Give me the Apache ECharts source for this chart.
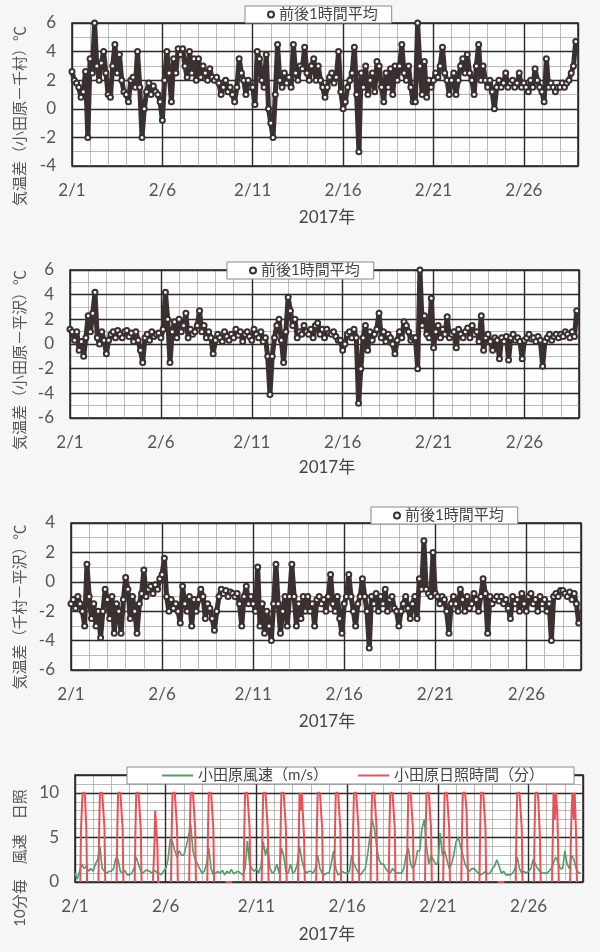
<!DOCTYPE html>
<html>
<head>
<meta charset="utf-8">
<script src="https://cdn.jsdelivr.net/npm/echarts@6/dist/echarts.min.js"></script>
<style>
html,body{margin:0;padding:0;background:#f6f6f9;}
#chart{width:600px;height:952px;}
</style>
</head>
<body>
<div id="chart"></div>
<script>
// ---- data (3-hourly values: 0,3,6,9,12,15,18,21h of each day, 2/1 .. 2/28) ----
const tickLabels = ['2/1', '2/6', '2/11', '2/16', '2/21', '2/26'];
const xTitle = '2017年';
const legendTemp = '前後1時間平均';
const legendWind = '小田原風速（m/s）';
const legendSun = '小田原日照時間（分）';

const diffOdawaraChimura = [
  2.6, 2.0, 1.8, 1.5, 0.8, 1.2, 2.6, -2.0,
  3.5, 2.5, 6.0, 3.0, 2.0, 3.2, 4.0, 2.5,
  1.0, 0.8, 3.0, 4.5, 2.5, 3.8, 2.0, 1.2,
  1.0, 0.5, 2.0, 2.2, 1.5, 4.0, 1.5, -2.0,
  0.0, 1.2, 1.8, 1.0, 1.6, 1.2, 1.0, 0.5,
  -0.8, 2.0, 4.0, 2.5, 0.5, 3.5, 2.5, 4.2,
  3.8, 4.2, 3.0, 2.2, 4.0, 2.5, 3.5, 2.0,
  3.5, 2.2, 3.0, 2.5, 2.0, 2.8, 2.2, 2.0,
  2.2, 1.8, 1.0, 1.5, 2.0, 1.2, 1.5, 1.0,
  0.5, 1.5, 3.5, 2.5, 2.0, 1.0, 2.0, 1.5,
  1.5, 0.3, 4.0, 3.5, 2.0, 1.5, 3.8, 0.0,
  -1.0, -2.0, 1.0, 4.5, 2.0, 1.5, 2.5, 1.8,
  2.2, 1.5, 4.5, 2.5, 2.0, 3.0, 2.8, 4.3,
  2.5, 2.0, 3.0, 3.5, 2.0, 3.0, 2.0, 1.5,
  0.8, 1.5, 2.2, 2.5, 1.8, 2.2, 4.0, 1.2,
  0.0, 0.5, 1.5, 2.0, 2.5, 4.3, 1.0, -3.0,
  2.5, 1.5, 3.0, 1.0, 2.0, 2.5, 1.2, 3.3,
  3.0, 1.5, 0.5, 2.5, 1.5, 2.8, 1.0, 3.0,
  2.0, 3.0, 4.5, 2.5, 2.0, 3.0, 1.5, 0.5,
  0.5, 6.0, 3.0, 1.0, 3.3, 0.8, 2.0, 1.5,
  2.0, 2.5, 2.2, 3.0, 4.3, 2.5, 2.0, 1.0,
  2.0, 2.5, 1.0, 2.0, 3.0, 3.5, 2.5, 3.8,
  2.5, 2.0, 1.0, 3.0, 4.5, 2.0, 3.0, 2.0,
  1.5, 2.0, 1.2, 0.0, 1.5, 2.0, 1.5, 1.8,
  2.5, 1.5, 1.8, 2.0, 1.5, 1.8, 2.5, 1.5,
  1.8, 1.5, 1.2, 2.0, 1.5, 2.8, 2.0, 1.5,
  1.2, 0.5, 3.5, 1.5, 1.8, 1.5, 1.2, 1.5,
  1.5, 1.8, 1.5, 1.8, 2.0, 2.5, 3.0, 4.7
];

const diffOdawaraHirasawa = [
  1.2, 1.0, 0.3, 1.0, -0.5, 0.2, -1.0, 0.5,
  2.3, 1.0, 2.5, 4.2, 0.5, 0.0, 1.0, 0.3,
  -0.8, 0.3, 0.8, 1.0, 0.5, 1.1, 0.8, 0.5,
  1.0, 1.1, 0.6, 0.9, 0.2, 1.0, 0.3, -0.5,
  -1.5, 0.5, 0.8, 0.3, 1.0, 0.6, 0.8, 0.9,
  0.5, 1.2, 4.2, 2.0, -1.5, 1.0, 1.8, 0.5,
  2.0, 1.0, 1.5, 2.5, 0.5, 1.2, 0.8, 1.0,
  1.5, 2.7, 1.0, 1.5, 0.5, 1.0, 0.5, -0.8,
  0.3, 0.8, 0.5, 0.2, 1.0, 0.6, 0.3, 0.8,
  0.5, 1.2, 0.7, 1.0, 0.2, 0.8, 1.0, 0.6,
  0.3, 1.2, 0.8, 0.5, 1.0, 0.2, 0.5, -1.0,
  -4.1, -1.0, 0.5, 1.5, 2.0, 0.3, -1.5, 1.0,
  3.8, 2.7, 1.5, 2.0, 0.5, 1.0, 0.8, 1.5,
  1.0, 0.8, 1.2, 0.5, 1.5, 1.7, 0.8, 1.2,
  0.5, 1.2, 0.9, 0.8, 1.0, 0.6, 0.3, 0.3,
  -0.5, 0.0, 0.8, 1.0, 0.5, 1.2, 0.5, -4.8,
  -2.0, 0.5, 1.5, -0.5, 1.0, 0.3, 0.8, 1.2,
  2.5, 0.5, 1.0, 0.2, 0.8, 0.5, 0.0, -0.8,
  0.3, 1.0, 0.5, 1.8, 1.5, 1.0, 0.3, 0.5,
  0.5, -2.0, 6.0, 1.5, 2.3, 0.8, 0.5, 3.7,
  -0.3, 1.0, 1.5, 0.5, 1.2, 0.8, 2.2, 0.5,
  0.8, 1.0, -0.3, 1.2, 0.8, 0.5, 1.0, 1.3,
  0.5, 1.5, 0.8, 1.0, 0.2, 2.3, -0.5, 0.5,
  0.8, 0.2, -0.5, 0.5, 0.3, -1.2, 0.5, 0.2,
  0.6, -1.3, 0.5, 0.8, 0.3, 0.5, 0.2, -1.2,
  0.3, 0.5, 0.8, 0.4, 0.5, 0.2, 0.6, 0.3,
  -1.8, 0.2, 0.5, 0.8, 0.3, 0.6, 0.8, 0.5,
  0.8, 0.6, 1.0, 0.8, 0.5, 1.0, 0.6, 2.7
];

const diffChimuraHirasawa = [
  -1.5, -1.2, -1.8, -1.0, -1.5, -2.0, -3.0, 1.2,
  -1.0, -2.5, -1.5, -3.0, -2.0, -3.8, -2.0, -0.5,
  -1.2, -2.5, -1.0, -3.5, -1.5, -2.0, -3.5, -1.2,
  0.3, -0.5, -2.5, -1.0, -2.0, -3.5, -1.5, -0.8,
  0.8, -1.0, -0.5, -0.3, -0.8, -0.2, -0.5, 0.2,
  0.5, 1.6, -1.0, -2.0, -1.2, -1.8, -1.5, -2.0,
  -2.8, -0.3, -1.5, -2.0, -1.0, -3.0, -1.2, -2.0,
  -1.2, -0.5, -1.0, -2.5, -1.5, -1.8, -2.5, -3.3,
  -2.0, -1.0, -0.5, -0.8, -0.6, -1.0, -0.7, -0.8,
  -1.0, -0.8, -1.5, -3.0, -1.0, -0.3, -1.5, -1.0,
  -1.5, -2.0, 1.0, -3.0, -1.5, -3.5, -2.0, -3.0,
  -4.0, -1.5, 1.2, -1.5, -3.5, -2.0, -1.0, -3.0,
  -1.0, 1.2, -1.0, -3.0, -1.5, -2.5, -1.0, -2.0,
  -1.0, -2.0, -1.5, -3.0, -1.2, -1.0, -1.5, -1.2,
  -2.0, -1.0, 0.5, -1.5, -2.0, -1.0, -2.5, -3.5,
  -1.5, -1.0, 0.5, -1.0, -2.0, -3.0, -1.5, -1.0,
  0.2, -1.0, -2.0, -4.5, -1.0, -1.5, -0.8, -2.0,
  -1.0, -1.5, -0.5, -2.0, -1.2, -1.0, -1.8, -2.0,
  -3.0, -2.0, -1.5, -1.0, -1.8, -2.5, -1.5, -1.0,
  -2.5, 0.2, -0.5, 2.8, -0.5, -0.8, -1.0, 2.0,
  -0.8, -1.0, -1.5, -1.0, -1.2, -2.0, -3.5, -1.5,
  -1.0, -1.5, -2.0, -0.5, -1.2, -2.0, -1.0, -1.8,
  -1.5, -0.8, -1.2, -2.0, -1.0, 0.2, -0.8, -3.5,
  -1.0, -1.5, -1.2, -1.0, -1.3, -1.0, -1.5, -1.2,
  -1.8, -2.5, -1.0, -1.5, -1.2, -2.0, -0.8, -1.5,
  -2.0, -1.0, -0.8, -1.5, -1.2, -2.0, -1.0, -1.5,
  -1.2, -2.0, -1.5, -4.0, -1.0, -0.8, -1.0, -0.6,
  -0.6, -0.8, -1.0, -0.7, -1.2, -0.8, -1.5, -2.8
];

const windOdawara = [
  1.0, 0.3, 1.2, 2.0, 1.5, 1.8, 1.2, 1.5,
  1.2, 2.0, 2.5, 4.0, 1.5, 1.2, 1.0, 1.2,
  1.2, 1.5, 2.7, 2.5, 1.2, 1.0, 1.3, 0.8,
  0.8, 1.0, 1.5, 2.8, 2.0, 1.2, 1.0, 1.3,
  1.3, 1.2, 1.0, 1.3, 1.1, 1.0, 0.8, 1.2,
  1.5, 2.5, 4.8, 4.5, 3.5, 2.8, 3.5, 3.0,
  3.0, 4.0, 5.0, 6.5, 3.5, 2.5, 2.0, 1.5,
  1.0, 1.2, 2.0, 3.8, 1.5, 0.8, 1.0, 1.2,
  1.0, 1.3, 0.8, 1.2, 1.0, 1.4, 0.9, 1.1,
  1.2, 1.0, 0.8, 1.5, 4.6, 2.0, 1.5, 1.2,
  1.5, 1.0, 1.8, 4.5, 3.0, 4.0, 1.5, 1.0,
  1.2, 2.0, 1.0, 3.8, 3.0, 1.2, 1.0, 2.0,
  1.0, 1.2, 2.0, 4.0, 2.5, 1.5, 1.0, 1.2,
  1.2, 1.0, 1.5, 3.0, 1.5, 1.0, 0.8, 1.0,
  1.0, 2.0, 3.5, 1.5, 0.8, 1.0, 1.2, 1.0,
  1.0, 1.2, 3.0, 2.0, 1.5, 1.0, 0.8, 1.2,
  1.5, 3.0, 5.0, 7.0, 6.0, 4.0, 2.5, 2.0,
  2.0, 1.5, 1.2, 1.0, 1.5, 1.2, 1.0, 1.0,
  1.0, 1.5, 3.0, 3.8, 2.0, 1.5, 2.0, 3.5,
  3.5, 6.0, 7.0, 4.0, 2.0, 3.0, 2.5, 2.0,
  2.0, 5.5, 3.0, 3.5, 2.5, 1.5, 2.0, 3.0,
  4.5, 5.0, 4.0, 3.0, 2.0, 1.5, 1.2, 1.5,
  1.5, 1.2, 1.0, 0.8, 1.0, 1.2, 0.9, 1.0,
  1.5, 1.8, 2.5, 1.8, 1.0, 1.2, 0.8, 0.8,
  0.8, 1.0, 1.5, 2.8, 1.5, 1.0, 1.2, 1.0,
  1.2, 1.5, 2.5, 2.0, 1.5, 1.2, 1.0, 1.0,
  1.0, 1.2, 1.5, 2.2, 2.8, 2.2, 1.5, 1.5,
  3.5, 2.0, 1.5, 3.0, 2.5, 1.5, 1.0, 1.0
];

// daytime sunshine (min per 10 min), hourly from 7h to 16h, one row per day
const sunHours = [7, 8, 9, 10, 11, 12, 13, 14, 15, 16];
const sunOdawara = [
  [0, 6, 6, 10, 10, 10, 10, 10, 6, 0],
  [0, 6, 10, 10, 10, 10, 10, 10, 6, 0],
  [0, 6, 10, 10, 10, 10, 10, 10, 6, 0],
  [0, 6, 10, 10, 10, 10, 10, 10, 6, 0],
  [0, 0, 4, 8, 8, 8, 4, 0, 0, 0],
  [0, 6, 10, 10, 10, 10, 10, 10, 6, 0],
  [0, 6, 10, 10, 10, 10, 10, 10, 6, 0],
  [0, 6, 10, 10, 10, 10, 10, 10, 6, 0],
  [0, 0, 0, 0, 0, 0, 0, 0, 0, 0],
  [0, 6, 10, 10, 10, 10, 10, 10, 6, 0],
  [0, 6, 10, 10, 10, 10, 10, 10, 6, 0],
  [0, 6, 10, 10, 10, 10, 10, 10, 6, 0],
  [0, 5, 10, 10, 8, 10, 10, 10, 5, 0],
  [0, 6, 10, 10, 10, 10, 10, 10, 6, 0],
  [0, 6, 10, 10, 10, 10, 10, 10, 6, 0],
  [0, 6, 10, 10, 10, 10, 10, 10, 6, 0],
  [0, 6, 10, 10, 10, 10, 10, 10, 6, 0],
  [0, 6, 10, 10, 10, 10, 10, 10, 6, 0],
  [0, 6, 10, 10, 10, 10, 10, 10, 6, 0],
  [0, 6, 10, 10, 10, 10, 10, 10, 6, 0],
  [0, 6, 10, 10, 10, 10, 10, 10, 6, 0],
  [0, 6, 10, 10, 10, 10, 10, 8, 4, 0],
  [0, 6, 10, 10, 10, 10, 10, 10, 6, 0],
  [0, 0, 0, 0, 0, 0, 0, 0, 0, 0],
  [0, 6, 10, 10, 10, 10, 10, 10, 6, 0],
  [0, 6, 10, 10, 10, 10, 9, 9, 5, 0],
  [0, 5, 10, 10, 7, 10, 10, 8, 4, 0],
  [0, 5, 8, 10, 10, 7, 10, 10, 5, 0]
];

// ---- chart ----
const FONT = 'Lato, "Noto Sans CJK JP", sans-serif';
const STEP = 3 / 24;
const DAYS = 28;

function series3h(arr) { return arr.map((v, i) => [i * STEP, v]); }
function sunSeries(rows) {
  const out = [];
  rows.forEach((row, d) => {
    row.forEach((v, k) => out.push([d + sunHours[k] / 24, v]));
    out.push([d + 20 / 24, '-']);
  });
  return out;
}

const panels = [
  { left: 72, top: 23, width: 506, height: 143, ymin: -4, ymax: 6, ymaj: 2 },
  { left: 70, top: 270, width: 509, height: 148, ymin: -6, ymax: 6, ymaj: 2 },
  { left: 71, top: 523, width: 510, height: 147, ymin: -6, ymax: 4, ymaj: 2 },
  { left: 75, top: 775, width: 508, height: 107, ymin: 0, ymax: 12, ymaj: 5 }
];

const grid = [], xAxis = [], yAxis = [];
panels.forEach((p, g) => {
  grid.push({ left: p.left, top: p.top, width: p.width, height: p.height, show: true,
    backgroundColor: '#fdfdfd', borderColor: '#222', borderWidth: 1.5 });
  xAxis.push({ gridIndex: g, type: 'value', min: 0, max: DAYS, interval: 1, position: 'top',
    axisLine: { show: false }, axisTick: { show: false }, axisLabel: { show: false },
    splitLine: { show: true, lineStyle: { color: '#a8a8a8', width: 0.8 } } });
  xAxis.push({ gridIndex: g, type: 'value', min: 0, max: DAYS, interval: 5, position: 'bottom', z: 1,
    axisLine: { show: false }, axisTick: { show: false },
    axisLabel: { fontSize: 17, color: '#555', margin: 16, fontFamily: FONT, showMaxLabel: false,
      formatter: v => tickLabels[Math.round(v / 5)] || '' },
    splitLine: { show: true, lineStyle: { color: '#2a2a2a', width: 1.4 } } });
  yAxis.push({ gridIndex: g, type: 'value', min: p.ymin, max: p.ymax, interval: 1, position: 'right',
    axisLine: { show: false }, axisTick: { show: false }, axisLabel: { show: false },
    splitLine: { show: true, lineStyle: { color: '#a8a8a8', width: 0.8 } } });
  yAxis.push({ gridIndex: g, type: 'value', min: p.ymin, max: p.ymax, interval: p.ymaj, position: 'left', z: 1,
    axisLine: { show: false }, axisTick: { show: false },
    axisLabel: { fontSize: 17, color: '#555', margin: 16, fontFamily: FONT, showMaxLabel: g !== 3 },
    splitLine: { show: true, lineStyle: { color: '#2a2a2a', width: 1.4 } } });
});

const tempStyle = {
  type: 'line', name: legendTemp, symbol: 'emptyCircle', symbolSize: 5,
  lineStyle: { color: '#3b3030', width: 5 },
  itemStyle: { color: '#3b3030', borderWidth: 1.8 },
  animation: false, z: 3
};

const series = [
  Object.assign({}, tempStyle, { xAxisIndex: 1, yAxisIndex: 1, data: series3h(diffOdawaraChimura) }),
  Object.assign({}, tempStyle, { xAxisIndex: 3, yAxisIndex: 3, data: series3h(diffOdawaraHirasawa) }),
  Object.assign({}, tempStyle, { xAxisIndex: 5, yAxisIndex: 5, data: series3h(diffChimuraHirasawa) }),
  { type: 'line', name: legendWind, xAxisIndex: 7, yAxisIndex: 7, data: series3h(windOdawara),
    symbol: 'none', lineStyle: { color: '#4f9d6b', width: 1.6 }, itemStyle: { color: '#4f9d6b' },
    animation: false, z: 3 },
  { type: 'line', name: legendSun, xAxisIndex: 7, yAxisIndex: 7, data: sunSeries(sunOdawara),
    symbol: 'none', connectNulls: false, lineStyle: { color: '#e3535a', width: 2 }, itemStyle: { color: '#e3535a' },
    animation: false, z: 4 }
];

const legBase = {
  orient: 'horizontal', backgroundColor: '#ffffff', borderColor: '#8a8a8a', borderWidth: 1,
  borderRadius: 0, textStyle: { fontSize: 15, color: '#444', fontFamily: FONT },
  selectedMode: false, z: 10
};
const legend = [
  Object.assign({}, legBase, { left: 245, top: 6, data: [legendTemp], icon: 'emptyCircle',
    itemWidth: 6, itemHeight: 6, padding: [1, 14, 1, 22], itemStyle: { borderWidth: 1 } }),
  Object.assign({}, legBase, { left: 227, top: 262, data: [legendTemp], icon: 'emptyCircle',
    itemWidth: 6, itemHeight: 6, padding: [1, 14, 1, 22], itemStyle: { borderWidth: 1 } }),
  Object.assign({}, legBase, { left: 371, top: 507, data: [legendTemp], icon: 'emptyCircle',
    itemWidth: 6, itemHeight: 6, padding: [1, 14, 1, 22], itemStyle: { borderWidth: 1 } }),
  Object.assign({}, legBase, { left: 127, top: 767, data: [legendWind, legendSun], icon: 'rect',
    itemWidth: 31, itemHeight: 2, itemGap: 30, padding: [1, 30, 1, 35] })
];

const yNames = [
  { text: '気温差（小田原－千村）℃', y: 116 },
  { text: '気温差（小田原－平沢）℃', y: 360 },
  { text: '気温差（千村－平沢）℃', y: 607 },
  { text: '10分毎　風速　日照', y: 858 }
];
const titleYs = [218, 468, 722, 935];
const graphic = [];
yNames.forEach(n => graphic.push({ type: 'text', x: 20, y: n.y, rotation: Math.PI / 2,
  style: { text: n.text, fontSize: 15, fill: '#555', fontFamily: FONT, textAlign: 'center', textVerticalAlign: 'middle' } }));
titleYs.forEach(y => graphic.push({ type: 'text', x: 327, y: y,
  style: { text: xTitle, fontSize: 17, fill: '#444', fontFamily: FONT, textAlign: 'center', textVerticalAlign: 'middle' } }));

const chart = echarts.init(document.getElementById('chart'), null, { renderer: 'canvas' });
chart.setOption({
  backgroundColor: '#f6f6f9',
  animation: false,
  textStyle: { fontFamily: FONT },
  grid, xAxis, yAxis, series, legend, graphic
});
</script>
</body>
</html>
